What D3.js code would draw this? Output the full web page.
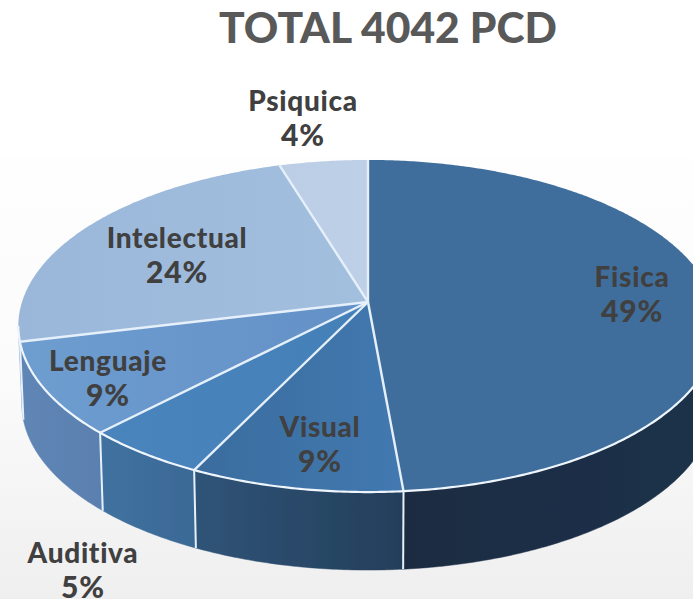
<!DOCTYPE html>
<html>
<head>
<meta charset="utf-8">
<style>
html, body { margin: 0; padding: 0; background: #fff; }
svg { display: block; }
text { font-family: Lato, "Open Sans", sans-serif; font-weight: 900; text-anchor: middle; }
</style>
<script src="https://cdnjs.cloudflare.com/ajax/libs/d3/7.8.5/d3.min.js"></script>
</head>
<body>
<div id="vis"></div>
<script>
const title = 'TOTAL 4042 PCD';
const categories = ['Fisica', 'Visual', 'Auditiva', 'Lenguaje', 'Intelectual', 'Psiquica'];
const percentLabels = ['49%', '9%', '5%', '9%', '24%', '4%'];
// slice sizes as measured on the picture (the printed labels are rounded)
const shares = [48.6, 8.6, 5.0, 9.0, 24.1, 4.7];

const topFrom = ['#3f6e9c', '#3a6c9e', '#4a84bc', '#6e9dd0', '#9ab7da', '#bbcee6'];
const topTo = ['#3f6e9c', '#4279b0', '#4480b8', '#6390c6', '#a3bfde', '#bdd0e7'];
const wallFrom = ['#1a2c42', '#2f5478', '#41719f', '#5f86b6'];
const wallTo = ['#1c3149', '#243e5a', '#3a6996', '#5a80b0'];

const labelX = [632, 320, 83, 108, 177, 303];
const labelY = [287, 437, 563, 371, 248, 111];
const labelGap = 35;

const width = 693, height = 599;
const cx = 368, apexY = 302;
const radiusX = 346, radiusY = 118.9, tilt = -0.1446;
const depth = 78, floorScale = 0.99;

const svg = d3.select('#vis').append('svg')
    .attr('width', width)
    .attr('height', height);
const defs = svg.append('defs');

const bg = defs.append('linearGradient').attr('id', 'bg')
    .attr('x1', 0).attr('y1', 0).attr('x2', 0).attr('y2', 1);
bg.append('stop').attr('offset', 0).attr('stop-color', '#fefefe');
bg.append('stop').attr('offset', 0.5).attr('stop-color', '#fbfbfb');
bg.append('stop').attr('offset', 1).attr('stop-color', '#efefef');

defs.append('filter').attr('id', 'soft')
    .append('feGaussianBlur').attr('stdDeviation', 0.45);

svg.append('rect')
    .attr('x', 0).attr('y', 158)
    .attr('width', width).attr('height', height - 158)
    .attr('fill', 'url(#bg)');

// perspective view of a flat disc: angle runs clockwise from the top
function project(angle, lift) {
    const u = Math.sin(angle), v = -Math.cos(angle);
    const w = 1 + tilt * v;
    const k = lift ? floorScale : 1;
    return [
        cx + k * radiusX * u / w,
        (radiusY * v + apexY) / w + (lift ? depth : 0)
    ];
}

function arcPoints(a0, a1, lift) {
    const n = Math.max(2, Math.ceil(Math.abs(a1 - a0) / 0.01));
    return d3.range(n + 1).map(i => project(a0 + (a1 - a0) * i / n, lift));
}

const line = d3.line();
const arcs = d3.pie().sort(null).value(d => d)(shares);
const chart = svg.append('g').attr('filter', 'url(#soft)');

function addGradient(id, from, to) {
    const g = defs.append('linearGradient').attr('id', id);
    g.append('stop').attr('offset', 0).attr('stop-color', from);
    g.append('stop').attr('offset', 1).attr('stop-color', to);
}

// side wall is only seen between the two silhouette points of the rim
const wallStart = Math.PI - Math.acos(-tilt);
const wallEnd = Math.PI + Math.acos(-tilt);
const wallArcs = arcs
    .map((d, i) => ({i, a0: Math.max(d.startAngle, wallStart), a1: Math.min(d.endAngle, wallEnd)}))
    .filter(d => d.a1 > d.a0);

wallArcs.forEach(d => addGradient('wall' + d.i, wallFrom[d.i] || wallTo[3], wallTo[d.i] || wallTo[3]));

chart.selectAll('path.wall')
    .data(wallArcs)
    .enter().append('path')
    .attr('class', 'wall')
    .attr('d', d => line(arcPoints(d.a0, d.a1, false).concat(arcPoints(d.a1, d.a0, true))) + 'Z')
    .attr('fill', d => 'url(#wall' + d.i + ')')
    .attr('stroke', d => 'url(#wall' + d.i + ')')
    .attr('stroke-width', 0.5);

arcs.forEach((d, i) => addGradient('top' + i, topFrom[i], topTo[i]));

chart.selectAll('path.top')
    .data(arcs)
    .enter().append('path')
    .attr('class', 'top')
    .attr('d', d => line([[cx, apexY]].concat(arcPoints(d.startAngle, d.endAngle, false))) + 'Z')
    .attr('fill', (d, i) => 'url(#top' + i + ')');

// white separators on the disc
chart.selectAll('line.spoke')
    .data(arcs)
    .enter().append('line')
    .attr('class', 'spoke')
    .attr('x1', cx)
    .attr('y1', apexY)
    .attr('x2', d => project(d.startAngle, false)[0])
    .attr('y2', d => project(d.startAngle, false)[1])
    .attr('stroke', '#e6f0fa')
    .attr('stroke-width', 2.4);

// white rim along the front
chart.append('path')
    .attr('d', line(arcPoints(wallStart, wallEnd, false)))
    .attr('fill', 'none')
    .attr('stroke', '#eef5fc')
    .attr('stroke-width', 2.2);

// vertical seams between the wall pieces
chart.selectAll('line.seam')
    .data(wallArcs.slice(1))
    .enter().append('line')
    .attr('class', 'seam')
    .attr('x1', d => project(d.a0, false)[0])
    .attr('y1', d => project(d.a0, false)[1])
    .attr('x2', d => project(d.a0, true)[0])
    .attr('y2', d => project(d.a0, true)[1])
    .attr('stroke', '#e6f0fa')
    .attr('stroke-width', 2);

svg.append('text')
    .attr('x', 388)
    .attr('y', 43)
    .attr('font-size', 42)
    .attr('fill', '#595959')
    .attr('textLength', 338)
    .attr('lengthAdjust', 'spacingAndGlyphs')
    .text(title);

const labels = svg.selectAll('g.label')
    .data(categories)
    .enter().append('g')
    .attr('class', 'label')
    .attr('fill', '#404040')
    .attr('font-size', 28);

labels.append('text')
    .attr('x', (d, i) => labelX[i])
    .attr('y', (d, i) => labelY[i])
    .attr('letter-spacing', 0.7)
    .text(d => d);

labels.append('text')
    .attr('x', (d, i) => labelX[i])
    .attr('y', (d, i) => labelY[i] + labelGap)
    .attr('font-size', 30)
    .attr('letter-spacing', 0.8)
    .text((d, i) => percentLabels[i]);
</script>
</body>
</html>
